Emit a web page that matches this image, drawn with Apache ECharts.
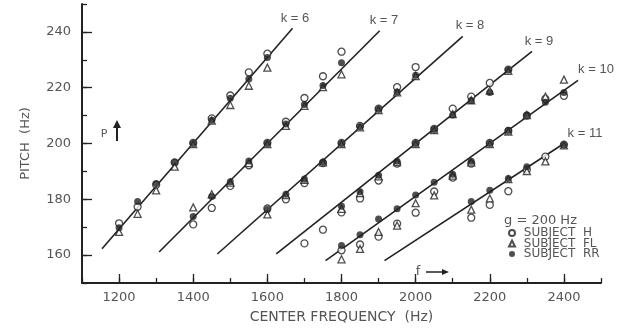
<!DOCTYPE html>
<html>
<head>
<meta charset="utf-8">
<script src="https://cdn.jsdelivr.net/npm/echarts@6/dist/echarts.min.js"></script>
<style>
  html, body { margin: 0; padding: 0; background: #fff; }
  #chart { width: 628px; height: 329px; }
</style>
</head>
<body>
<div id="chart"></div>
<script>
// harmonic number of each line
const kValues = [6, 7, 8, 9, 10, 11]
// theory lines: start / end (Hz)
const lineStartF = [1154, 1308, 1465, 1624, 1757, 1916]
const lineStartP = [162.3, 161.1, 160.4, 160.4, 158.0, 158.0]
const lineEndF = [1668, 1903, 2127, 2314, 2438, 2400]
const lineEndP = [241.3, 240.4, 238.4, 233.0, 222.6, 200.0]

// measured pitches, one group per k
const freqK6 = [1200, 1250, 1300, 1350, 1400, 1450, 1500, 1550, 1600]
const hK6 = [171.4, 177.3, 185.2, 193.2, 200.2, 209.0, 217.2, 225.5, 232.2]
const flK6 = [168.3, 174.8, 183.2, 191.7, 199.8, 208.2, 213.8, 220.7, 227.2]
const rrK6 = [169.8, 179.2, 185.7, 193.3, 200.0, 208.3, 216.2, 223.1, 230.8]

const freqK7 = [1400, 1450, 1500, 1550, 1600, 1650, 1700, 1750, 1800]
const hK7 = [171.0, 176.9, 184.8, 192.2, 200.2, 207.8, 216.3, 224.1, 232.9]
const flK7 = [177.1, 181.8, 186.0, 193.0, 199.8, 206.3, 213.5, 220.2, 224.8]
const rrK7 = [173.8, 181.0, 186.3, 193.7, 200.0, 207.0, 214.0, 220.8, 228.9]

const freqK8 = [1600, 1650, 1700, 1750, 1800, 1850, 1900, 1950, 2000]
const hK8 = [176.7, 180.0, 185.8, 193.0, 200.2, 206.3, 212.5, 220.2, 227.4]
const flK8 = [174.6, 181.5, 187.0, 193.2, 199.8, 205.8, 212.0, 218.3, 224.2]
const rrK8 = [176.3, 181.8, 187.3, 193.4, 200.0, 206.0, 212.3, 218.5, 224.5]

const freqK9 = [1700, 1750, 1800, 1850, 1900, 1950, 2000, 2050, 2100, 2150, 2200, 2250]
const hK9 = [164.2, 169.1, 175.3, 180.3, 186.7, 192.8, 200.2, 205.2, 212.5, 216.8, 221.7, 226.5]
const flK9 = [null, null, 176.6, 182.2, 188.2, 193.3, 199.8, 204.8, 210.5, 215.5, 219.0, 226.0]
const rrK9 = [null, null, 177.5, 182.7, 188.6, 193.6, 200.0, 205.0, 210.2, 215.4, 218.3, 226.3]

const freqK10 = [1800, 1850, 1900, 1950, 2000, 2050, 2100, 2150, 2200, 2250, 2300, 2350, 2400]
const hK10 = [161.7, 163.8, 166.6, 171.3, 175.2, 182.8, 187.8, 192.8, 200.2, 204.5, 210.0, 216.0, 217.1]
const flK10 = [158.5, 162.2, 168.3, 170.6, 178.6, 181.4, 188.5, 193.2, 199.8, 204.3, 210.2, 216.8, 222.9]
const rrK10 = [163.4, 167.3, 172.9, 176.6, 181.5, 186.1, 189.0, 193.6, 200.0, 204.7, 210.2, 214.8, 218.3]

const freqK11 = [2150, 2200, 2250, 2300, 2350, 2400]
const hK11 = [173.4, 178.0, 182.9, 190.6, 195.3, 199.6]
const flK11 = [176.3, 180.3, 187.2, 190.1, 193.6, 199.3]
const rrK11 = [179.2, 183.2, 187.5, 191.7, null, 199.5]

// axis ticks
const xLabelTicks = [1200, 1400, 1600, 1800, 2000, 2200, 2400]
const yLabelTicks = [160, 180, 200, 220, 240]

const freqs = [freqK6, freqK7, freqK8, freqK9, freqK10, freqK11]
const hAll = [hK6, hK7, hK8, hK9, hK10, hK11]
const flAll = [flK6, flK7, flK8, flK9, flK10, flK11]
const rrAll = [rrK6, rrK7, rrK8, rrK9, rrK10, rrK11]

function pairs(groups) {
  const out = []
  groups.forEach((vals, g) => {
    vals.forEach((v, i) => {
      if (v !== null) out.push([freqs[g][i], v])
    })
  })
  return out
}

const ink = '#222'
const textColor = '#555'
const font = 'DejaVu Sans'

const chart = echarts.init(document.getElementById('chart'))

const lineSeries = kValues.map((k, i) => ({
  name: 'k' + k,
  type: 'line',
  silent: true,
  symbol: 'none',
  z: 1,
  lineStyle: { color: ink, width: 1.6 },
  data: [[lineStartF[i], lineStartP[i]], [lineEndF[i], lineEndP[i]]]
}))

const kPos = [[295, 18], [384, 20], [470, 25], [539, 41], [596, 69], [585, 133]]
const kLabels = kValues.map((k, i) => ({
  type: 'text',
  x: kPos[i][0],
  y: kPos[i][1],
  style: {
    text: 'k = ' + k,
    font: '13px "Liberation Sans"',
    fill: textColor,
    align: 'center',
    verticalAlign: 'middle'
  }
}))

const option = {
  animation: false,
  grid: { left: 82, right: 27, top: 4, bottom: 37 },
  legend: {
    orient: 'vertical',
    left: 508,
    top: 227,
    padding: 0,
    itemWidth: 6,
    itemHeight: 6,
    itemGap: -1.5,
    formatter: name => ' ' + name,
    textStyle: { fontFamily: font, fontSize: 12, color: textColor },
    data: ['SUBJECT  H', 'SUBJECT  FL', 'SUBJECT  RR']
  },
  xAxis: [
    {
      type: 'value',
      min: 1100,
      max: 2500,
      name: 'CENTER FREQUENCY  (Hz)',
      nameLocation: 'middle',
      nameGap: 27,
      nameTextStyle: { fontFamily: font, fontSize: 14, color: textColor },
      axisLine: { show: true, onZero: false, lineStyle: { color: ink, width: 2 } },
      axisTick: { show: true, inside: true, length: 9, customValues: xLabelTicks, lineStyle: { color: ink, width: 1.3 } },
      axisLabel: {
        customValues: xLabelTicks,
        formatter: v => String(v),
        margin: 8,
        fontFamily: font,
        fontSize: 13,
        color: textColor
      },
      splitLine: { show: false }
    },
    {
      type: 'value',
      min: 1100,
      max: 2500,
      interval: 100,
      position: 'bottom',
      axisLine: { show: false },
      axisTick: { show: true, inside: true, length: 5, lineStyle: { color: ink, width: 1.3 } },
      axisLabel: { show: false },
      splitLine: { show: false }
    }
  ],
  yAxis: [
    {
      type: 'value',
      min: 150,
      max: 250,
      name: 'PITCH  (Hz)',
      nameLocation: 'middle',
      nameGap: 50,
      nameTextStyle: { fontFamily: font, fontSize: 13, color: textColor },
      axisLine: { show: true, onZero: false, lineStyle: { color: ink, width: 2 } },
      axisTick: { show: true, inside: true, length: 10, customValues: yLabelTicks, lineStyle: { color: ink, width: 1.3 } },
      axisLabel: { customValues: yLabelTicks, margin: 11, fontFamily: font, fontSize: 13, color: textColor },
      splitLine: { show: false }
    },
    {
      type: 'value',
      min: 150,
      max: 250,
      interval: 10,
      position: 'left',
      axisLine: { show: false },
      axisTick: { show: true, inside: true, length: 5, lineStyle: { color: ink, width: 1.3 } },
      axisLabel: { show: false },
      splitLine: { show: false }
    }
  ],
  series: lineSeries.concat([
    {
      name: 'SUBJECT  H',
      type: 'scatter',
      symbol: 'circle',
      symbolSize: 7,
      z: 2,
      itemStyle: { color: '#fff', borderColor: ink, borderWidth: 1.3 },
      data: pairs(hAll)
    },
    {
      name: 'SUBJECT  FL',
      type: 'scatter',
      symbol: 'triangle',
      symbolSize: 7,
      z: 3,
      itemStyle: { color: '#fff', borderColor: ink, borderWidth: 1.3 },
      data: pairs(flAll)
    },
    {
      name: 'SUBJECT  RR',
      type: 'scatter',
      symbol: 'circle',
      symbolSize: 7,
      z: 4,
      itemStyle: { color: ink },
      data: pairs(rrAll)
    }
  ]),
  graphic: kLabels.concat([
    {
      type: 'text', x: 504, y: 221,
      style: { text: 'g = 200 Hz', font: '13px "DejaVu Sans"', fill: textColor, verticalAlign: 'middle' }
    },
    // P arrow
    {
      type: 'text', x: 104, y: 134,
      style: { text: 'P', font: '11px "DejaVu Sans"', fill: textColor, align: 'center', verticalAlign: 'middle' }
    },
    { type: 'line', shape: { x1: 117, y1: 141, x2: 117, y2: 126 }, style: { stroke: ink, lineWidth: 2 } },
    { type: 'polygon', shape: { points: [[113, 128], [121, 128], [117, 120]] }, style: { fill: ink } },
    // f arrow
    {
      type: 'text', x: 418, y: 272,
      style: { text: 'f', font: '13px "DejaVu Sans"', fill: textColor, align: 'center', verticalAlign: 'middle' }
    },
    { type: 'line', shape: { x1: 426, y1: 272, x2: 444, y2: 272 }, style: { stroke: ink, lineWidth: 1.5 } },
    { type: 'polygon', shape: { points: [[442, 269], [442, 275], [449, 272]] }, style: { fill: ink } }
  ])
}

chart.setOption(option)
</script>
</body>
</html>
